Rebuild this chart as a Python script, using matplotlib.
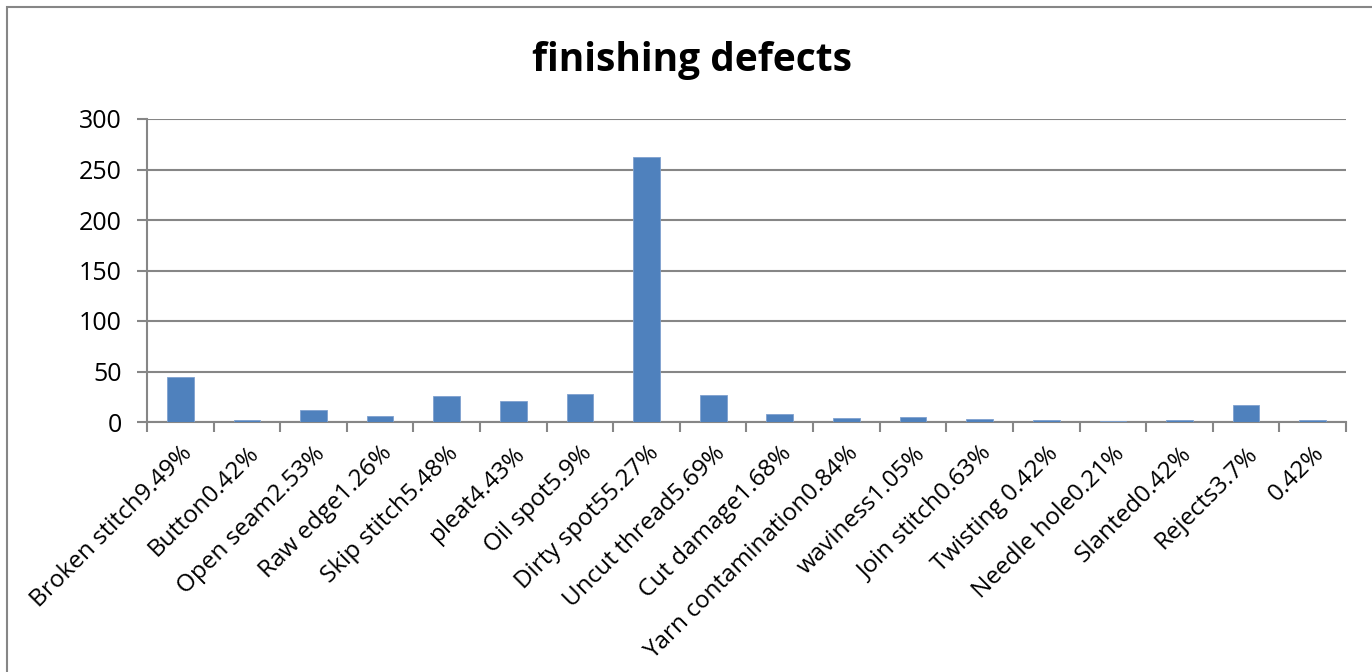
import matplotlib.pyplot as plt
from matplotlib.patches import Rectangle

defects = ['Broken stitch', 'Button', 'Open seam', 'Raw edge', 'Skip stitch',
           'pleat', 'Oil spot', 'Dirty spot', 'Uncut thread', 'Cut damage',
           'Yarn contamination', 'waviness', 'Join stitch', 'Twisting ',
           'Needle hole', 'Slanted', 'Rejects', '']
percents = ['9.49%', '0.42%', '2.53%', '1.26%', '5.48%', '4.43%', '5.9%',
            '55.27%', '5.69%', '1.68%', '0.84%', '1.05%', '0.63%', '0.42%',
            '0.21%', '0.42%', '3.7%', '0.42%']
counts = [45, 2, 12, 6, 26, 21, 28, 262, 27, 8, 4, 5, 3, 2, 1, 2, 17, 2]

labels = [d + p for d, p in zip(defects, percents)]

plt.rcParams['font.family'] = ['Open Sans', 'DejaVu Sans']

fig = plt.figure(figsize=(13.72, 6.72), dpi=100)
ax = fig.add_axes([147 / 1372, 1 - 422 / 672, 1199 / 1372, 303 / 672])

# chart frame
fig.patches.append(Rectangle((7 / 1372, -0.1), 1.2, 1 - 7 / 672 + 0.1,
                             transform=fig.transFigure, fill=False,
                             edgecolor='#868686', linewidth=1.5))

x = list(range(len(counts)))
ax.bar(x, counts, width=0.4, color='#4F81BD', edgecolor='#7FA1CF',
       linewidth=0.6, zorder=3)

ax.set_xlim(-0.5, len(counts) - 0.5)
ax.set_ylim(0, 300)
ax.set_yticks(range(0, 301, 50))
ax.yaxis.grid(True, color='#868686', linewidth=1.5, zorder=0)

ax.set_xticks(x)
ax.set_xticklabels(labels, rotation=45, ha='right', rotation_mode='anchor',
                   fontsize=17.5)
ax.tick_params(axis='x', length=0, pad=14)
ax.set_xticks([i - 0.5 for i in range(len(counts) + 1)], minor=True)
ax.tick_params(axis='x', which='minor', length=7, width=1.5, color='#868686')
ax.tick_params(axis='y', length=7, width=1.5, color='#868686', labelsize=18,
               pad=11)

for s in ['top', 'right']:
    ax.spines[s].set_visible(False)
for s in ['left', 'bottom']:
    ax.spines[s].set_color('#868686')
    ax.spines[s].set_linewidth(1.5)

fig.text(692 / 1372, 1 - 60 / 672, 'finishing defects', ha='center',
         va='center', fontsize=28, fontweight='bold')

fig.savefig('out.png', dpi=100)
